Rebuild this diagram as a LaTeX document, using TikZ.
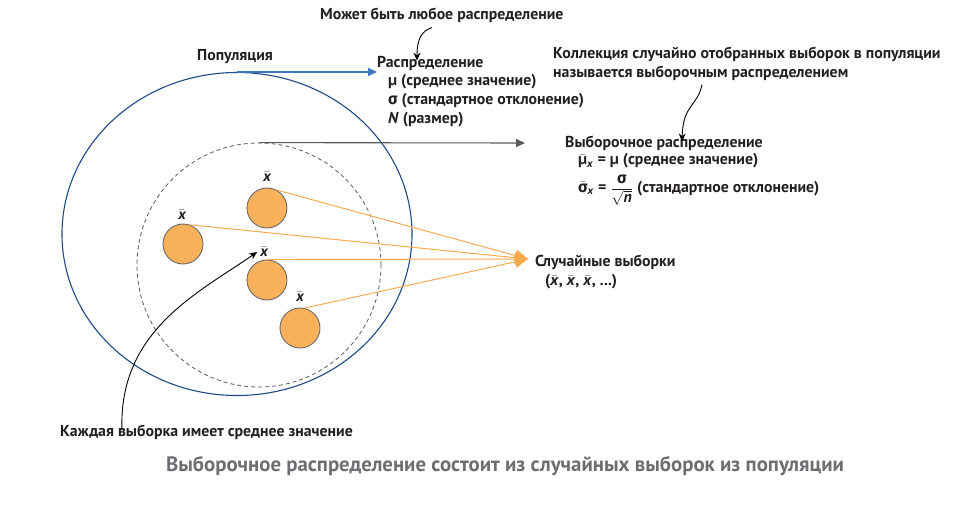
\documentclass[tikz,border=0pt]{standalone}
\usepackage{fontspec}
\setmainfont{PT Sans}
\newfontfamily\smpgreek{Fira Sans}[Script=Greek]
\usetikzlibrary{arrows.meta,positioning,calc,shapes.geometric}
\definecolor{smpnavy}{HTML}{1F4A85}
\definecolor{smpblue}{HTML}{3F78BE}
\definecolor{smpgray}{HTML}{595959}
\definecolor{smporange}{HTML}{F9A94E}
\definecolor{smpfill}{HTML}{F9B15C}
\definecolor{smpedge}{HTML}{6A6A6A}
\definecolor{smptext}{HTML}{231F20}
\definecolor{smptitle}{HTML}{6D6E71}
\newcommand\smpbar[1]{\ensuremath{\bar{\mbox{#1}}}}
\newcommand\smpsig{{\smpgreek σ}}
\tikzset{
  smp/txt/.style={
    font=\bfseries\fontsize{15.8}{19}\selectfont, text=smptext,
    inner sep=0pt, anchor=west, align=left
  },
  smp/xbar/.style={
    font=\bfseries\itshape\fontsize{15}{17}\selectfont, text=smptext, inner sep=0pt
  },
  smp/sample/.style={
    circle, draw=smpedge, fill=smpfill, line width=0.9pt, minimum size=40pt, inner sep=0pt
  },
  smp/pop/.style={ellipse, draw=smpnavy, line width=1.1pt, minimum width=350pt, minimum height=323pt},
  smp/sub/.style={circle, draw=smpgray, dash pattern=on 4pt off 3pt, line width=0.8pt, minimum size=244pt},
  smp/arr/.style={-{Triangle[length=9pt,width=8pt]}, smpblue, line width=1.1pt},
  smp/arrg/.style={-{Triangle[length=9pt,width=8pt]}, smpgray, line width=1.1pt},
  smp/arro/.style={-{Triangle[length=13pt,width=12pt]}, smporange, line width=1pt},
  smp/curve/.style={-{Stealth[length=8pt,width=7pt]}, black, line width=0.9pt}
}

\begin{document}
\begin{tikzpicture}[x=1pt, y=-1pt]
  \useasboundingbox (0,0) rectangle (955,506);

  % population and sub-population
  \node[smp/pop] (pop) at (237,234) {};
  \node[smp/sub] (sub) at (259,265) {};

  % samples
  \node[smp/sample] (c1) at (267,208) {};
  \node[smp/sample] (c2) at (183,244) {};
  \node[smp/sample] (c3) at (267,280) {};
  \node[smp/sample] (c4) at (300,328) {};
  \node[smp/xbar] (m1) at (267,177) {\smpbar{x}};
  \node[smp/xbar] (m2) at (182,215) {\smpbar{x}};
  \node[smp/xbar] (m3) at (264,252) {\smpbar{x}};
  \node[smp/xbar] (m4) at (300,297) {\smpbar{x}};

  % labels
  \node[smp/txt] (any) at (320,15) {Может быть любое распределение};
  \node[smp/txt] (popl) at (197,57) {Популяция};
  \node[smp/txt] (dist) at (377,63) {Распределение};
  \node[smp/txt] (dmu) at (388,82) {μ (среднее значение)};
  \node[smp/txt] (dsig) at (388,101) {\smpsig{} (стандартное отклонение)};
  \node[smp/txt] (dn) at (388,120) {\textit{N} (размер)};
  \node[smp/txt] (coll) at (553,63.5)
    {Коллекция случайно отобранных выборок в популяции\\называется выборочным распределением};
  \node[smp/txt] (samp) at (565,143) {Выборочное распределение};
  \node[smp/txt] (smu) at (578,161)
    {\smpbar{μ}\textsubscript{\textit{x}} = μ (среднее значение)};
  \node[smp/txt] (ssig) at (578,190)
    {\smpbar{\smpsig}\textsubscript{\textit{x}} = \ensuremath{\displaystyle\frac{\mbox{\smpsig}}{\sqrt{\mbox{\textit{n}}}}} (стандартное отклонение)};
  \node[smp/txt] (rnd) at (535,262) {Случайные выборки};
  \node[smp/txt] (rndx) at (545,282)
    {(\smpbar{\textit{x}}, \smpbar{\textit{x}}, \smpbar{\textit{x}}, ...)};
  \node[smp/txt] (each) at (60,432) {Каждая выборка имеет среднее значение};
  \node[font=\bfseries\fontsize{20.8}{24}\selectfont, text=smptitle, inner sep=0pt] (title)
    at (505,466) {Выборочное распределение состоит из случайных выборок из популяции};

  \coordinate (tgt) at (528,259);
  \coordinate (sampend) at (525,143);

  % connectors
  \draw[smp/arr] (pop.north) -- (pop.north -| dist.west);
  \draw[smp/arrg] (sub.north) -- (sampend);
  \draw[smp/arro] (c1.62) -- (tgt);
  \draw[smp/arro] (c2.70) -- (tgt);
  \draw[smp/arro] (c3.90) -- (tgt);
  \draw[smp/arro] (c4.77) -- (tgt);
  \draw[smp/curve] ([xshift=112pt,yshift=-5pt]any.south west)
    .. controls (422,31) and (417,38) .. ([xshift=40pt,yshift=-5pt]dist.north west);
  \draw[smp/curve] ([xshift=149pt,yshift=-4pt]coll.south west)
    .. controls (698,106) and (683,104) .. ([xshift=117pt,yshift=-6pt]samp.north west);
  \draw[smp/curve] ([xshift=62pt,yshift=-6pt]each.north west)
    .. controls (118,330) and (200,292) .. ([xshift=-3pt]m3.west);
\end{tikzpicture}
\end{document}
